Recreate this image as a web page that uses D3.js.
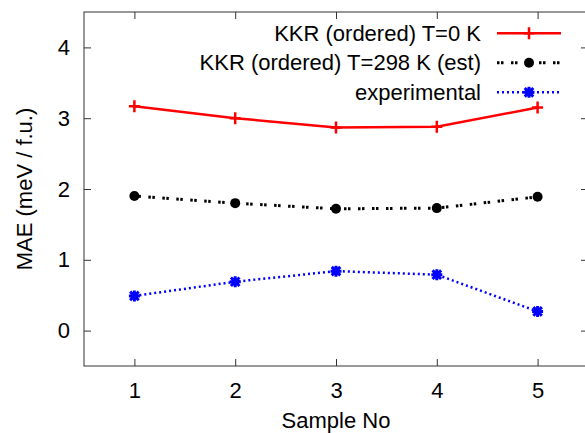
<!DOCTYPE html>
<html lang="en">
<head>
    <meta charset="UTF-8">
    <title>MAE vs sample</title>
    <script src="https://d3js.org/d3.v7.min.js"></script>
    <style>
        body {
            margin: 0;
            background-color: #ffffff;
        }
        svg text {
            font-family: "Liberation Sans", Arial, sans-serif;
            font-size: 22px;
            fill: #000;
        }
    </style>
</head>
<body>
    <script>
        const width = 585;
        const height = 433;
        const marginTop = 12;
        const marginLeft = 84;
        const plotRight = 588;
        const plotBottom = 366;

        const samples = [1, 2, 3, 4, 5];
        const kkrZero = [3.17, 3.00, 2.87, 2.88, 3.15];
        const kkrRoom = [1.90, 1.80, 1.72, 1.73, 1.89];
        const experimental = [0.49, 0.69, 0.84, 0.79, 0.27];
        const xTicks = [1, 2, 3, 4, 5];
        const yTicks = [0, 1, 2, 3, 4];
        const seriesNames = ["KKR (ordered) T=0 K", "KKR (ordered) T=298 K (est)", "experimental"];

        const series = [
            {name: seriesNames[0], values: kkrZero, color: "#ff0000", dash: null, width: 2.5, marker: "plus"},
            {name: seriesNames[1], values: kkrRoom, color: "#000000", dash: "2.5,1.5,2.5,7.5", width: 3, marker: "circle"},
            {name: seriesNames[2], values: experimental, color: "#0000ff", dash: "2,3", width: 2.5, marker: "star"}
        ];

        const x = d3.scaleLinear().domain([0.5, 5.5]).range([marginLeft, plotRight]);
        const y = d3.scaleLinear().domain([-0.5, 4.5]).range([plotBottom, marginTop]);

        const svg = d3.select("body").append("svg")
            .attr("width", width)
            .attr("height", height);

        // axes, ticks pointing inward on all four sides
        const tickLen = 7;
        function styleAxis(g) {
            g.attr("font-family", null).attr("font-size", null);
            g.select(".domain").remove();
            g.selectAll(".tick line").attr("stroke", "#333").attr("stroke-width", 1);
            g.selectAll(".tick text").attr("fill", "#000");
        }
        svg.append("g")
            .attr("transform", `translate(0,${plotBottom})`)
            .call(d3.axisBottom(x).tickValues(xTicks).tickSize(-tickLen).tickPadding(16).tickFormat(d3.format("d")))
            .call(styleAxis);
        svg.append("g")
            .attr("transform", `translate(0,${marginTop})`)
            .call(d3.axisTop(x).tickValues(xTicks).tickSize(-tickLen).tickFormat(""))
            .call(styleAxis);
        svg.append("g")
            .attr("transform", `translate(${marginLeft},0)`)
            .call(d3.axisLeft(y).tickValues(yTicks).tickSize(-tickLen).tickPadding(14).tickFormat(d3.format("d")))
            .call(styleAxis);
        svg.append("g")
            .attr("transform", `translate(${plotRight},0)`)
            .call(d3.axisRight(y).tickValues(yTicks).tickSize(-tickLen).tickFormat(""))
            .call(styleAxis);

        svg.append("rect")
            .attr("x", marginLeft)
            .attr("y", marginTop)
            .attr("width", plotRight - marginLeft)
            .attr("height", plotBottom - marginTop)
            .attr("fill", "none")
            .attr("stroke", "#333")
            .attr("stroke-width", 1);

        // axis titles
        svg.append("text")
            .attr("transform", `translate(32,${(marginTop + plotBottom) / 2}) rotate(-90)`)
            .attr("text-anchor", "middle")
            .text("MAE (meV / f.u.)");
        svg.append("text")
            .attr("x", (marginLeft + plotRight) / 2)
            .attr("y", 428)
            .attr("text-anchor", "middle")
            .text("Sample No");

        function drawMarker(g, type, color) {
            if (type === "plus") {
                g.append("path")
                    .attr("d", "M-5.5,0H5.5M0,-6V6")
                    .attr("stroke", color).attr("stroke-width", 2.5).attr("fill", "none");
            } else if (type === "circle") {
                g.append("circle").attr("r", 5).attr("fill", color);
            } else {
                g.append("path")
                    .attr("d", "M-5.5,0H5.5M0,-5.5V5.5M-4.3,-4.3L4.3,4.3M-4.3,4.3L4.3,-4.3")
                    .attr("stroke", color).attr("stroke-width", 3).attr("fill", "none");
            }
        }

        const line = d3.line()
            .x((d, i) => x(samples[i]))
            .y(d => y(d));

        series.forEach(s => {
            svg.append("path")
                .datum(s.values)
                .attr("d", line)
                .attr("fill", "none")
                .attr("stroke", s.color)
                .attr("stroke-width", s.width)
                .attr("stroke-dasharray", s.dash);
            s.values.forEach((v, i) => {
                const g = svg.append("g").attr("transform", `translate(${x(samples[i])},${y(v)})`);
                drawMarker(g, s.marker, s.color);
            });
        });

        // legend
        const legendTextX = 481;
        const legendLineX0 = 497;
        const legendLineX1 = 561;
        series.forEach((s, i) => {
            const cy = 33.3 + i * 29.5;
            svg.append("text")
                .attr("x", legendTextX)
                .attr("y", cy + 7.5)
                .attr("text-anchor", "end")
                .text(s.name);
            svg.append("line")
                .attr("x1", legendLineX0).attr("x2", legendLineX1)
                .attr("y1", cy).attr("y2", cy)
                .attr("stroke", s.color)
                .attr("stroke-width", s.width)
                .attr("stroke-dasharray", s.dash);
            const g = svg.append("g").attr("transform", `translate(${(legendLineX0 + legendLineX1) / 2},${cy})`);
            drawMarker(g, s.marker, s.color);
        });
    </script>
</body>
</html>
